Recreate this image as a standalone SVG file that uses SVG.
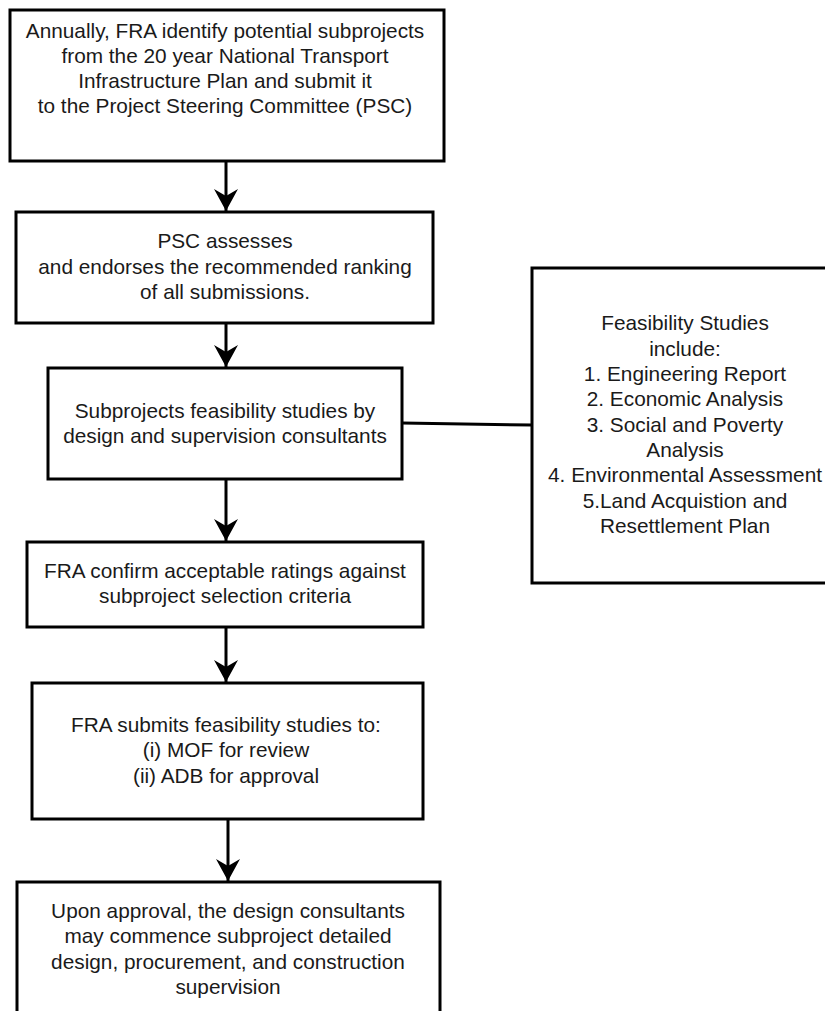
<svg xmlns="http://www.w3.org/2000/svg" width="825" height="1011" viewBox="0 0 825 1011">
<style>
.box{fill:#fff;stroke:#000;stroke-width:3}
.t{font-family:"Liberation Sans",Arial,sans-serif;font-size:20.8px;fill:#1a1a1a;text-anchor:middle}
.c{stroke:#000;stroke-width:3;fill:none}
</style>
<defs>
<marker id="ah" markerUnits="userSpaceOnUse" markerWidth="22" markerHeight="24" refX="22" refY="12" orient="auto" viewBox="0 0 22 24">
<path d="M0,0 L22,12 L0,24 L7,12 Z" fill="#000"/>
</marker>
</defs>
<rect width="825" height="1011" fill="#fff"/>
<g id="connectors">
<line class="c" x1="226" y1="161" x2="226" y2="211" marker-end="url(#ah)"/>
<line class="c" x1="226" y1="323" x2="226" y2="367" marker-end="url(#ah)"/>
<line class="c" x1="226" y1="479" x2="226" y2="541" marker-end="url(#ah)"/>
<line class="c" x1="226" y1="627" x2="226" y2="682" marker-end="url(#ah)"/>
<line class="c" x1="228" y1="819" x2="228" y2="881" marker-end="url(#ah)"/>
<line class="c" x1="402" y1="423" x2="532" y2="425" stroke-width="2.5"/>
</g>
<g id="n1">
<rect class="box" x="10" y="10" width="434" height="151"/>
<text class="t" x="225" y="38">Annually, FRA identify potential subprojects</text>
<text class="t" x="225" y="63">from the 20 year National Transport</text>
<text class="t" x="225" y="88">Infrastructure Plan and submit it</text>
<text class="t" x="225" y="113">to the Project Steering Committee (PSC)</text>
</g>
<g id="n2">
<rect class="box" x="16" y="212" width="417" height="111"/>
<text class="t" x="225" y="248">PSC assesses</text>
<text class="t" x="225" y="273.5">and endorses the recommended ranking</text>
<text class="t" x="225" y="299">of all submissions.</text>
</g>
<g id="n3">
<rect class="box" x="48" y="368" width="354" height="111"/>
<text class="t" x="225" y="418">Subprojects feasibility studies by</text>
<text class="t" x="225" y="443">design and supervision consultants</text>
</g>
<g id="n4">
<rect class="box" x="27" y="542" width="396" height="85"/>
<text class="t" x="225" y="578">FRA confirm acceptable ratings against</text>
<text class="t" x="225" y="603">subproject selection criteria</text>
</g>
<g id="n5">
<rect class="box" x="32" y="683" width="391" height="136"/>
<text class="t" x="226" y="732">FRA submits feasibility studies to:</text>
<text class="t" x="226" y="757">(i) MOF for review</text>
<text class="t" x="226" y="783">(ii) ADB for approval</text>
</g>
<g id="n6">
<rect class="box" x="17" y="882" width="423" height="140"/>
<text class="t" x="228" y="918">Upon approval, the design consultants</text>
<text class="t" x="228" y="943">may commence subproject detailed</text>
<text class="t" x="228" y="969">design, procurement, and construction</text>
<text class="t" x="228" y="994">supervision</text>
</g>
<g id="n7">
<rect class="box" x="532" y="268" width="308" height="315"/>
<text class="t" x="685" y="330">Feasibility Studies</text>
<text class="t" x="685" y="355.5">include:</text>
<text class="t" x="685" y="381">1. Engineering Report</text>
<text class="t" x="685" y="406">2. Economic Analysis</text>
<text class="t" x="685" y="431.5">3. Social and Poverty</text>
<text class="t" x="685" y="457">Analysis</text>
<text class="t" x="685" y="482">4. Environmental Assessment</text>
<text class="t" x="685" y="507.5">5.Land Acquistion and</text>
<text class="t" x="685" y="533">Resettlement Plan</text>
</g>
</svg>
